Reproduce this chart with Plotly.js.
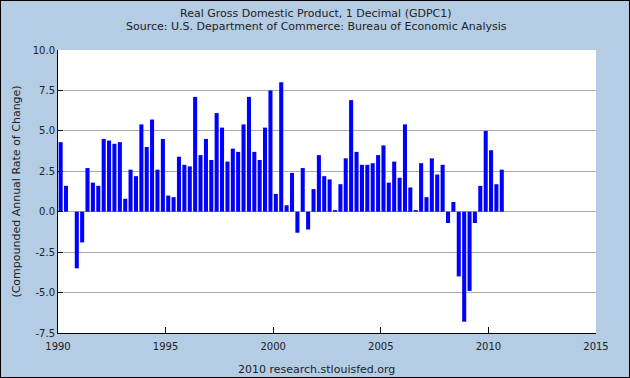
<!DOCTYPE html>
<html>
<head>
<meta charset="utf-8">
<script src="https://cdn.plot.ly/plotly-3.0.1.min.js"></script>
<style>
html,body{margin:0;padding:0;background:#b4cce4;}
#wrap{position:relative;width:630px;height:378px;}
#chart{width:630px;height:378px;}
#frame{position:absolute;left:0;top:0;width:628px;height:376px;border:1px solid #000;pointer-events:none;}
</style>
</head>
<body>
<div id="wrap"><div id="chart"></div><div id="frame"></div></div>
<script>
// Quarter start dates, 1990Q1 .. 2010Q3
const quarters = [];
for (let y = 1990; y <= 2010; y++) {
  for (const m of ['01','04','07','10']) {
    if (y === 2010 && m === '10') break;
    quarters.push(y + '-' + m + '-01');
  }
}
// Compounded annual rate of change, percent
const gdpGrowth = [
  4.3, 1.6, 0.0, -3.5,
  -1.9, 2.7, 1.8, 1.6,
  4.5, 4.4, 4.2, 4.3,
  0.8, 2.6, 2.2, 5.4,
  4.0, 5.7, 2.6, 4.5,
  1.0, 0.9, 3.4, 2.9,
  2.8, 7.1, 3.5, 4.5,
  3.2, 6.1, 5.2, 3.1,
  3.9, 3.7, 5.4, 7.1,
  3.7, 3.2, 5.2, 7.5,
  1.1, 8.0, 0.4, 2.4,
  -1.3, 2.7, -1.1, 1.4,
  3.5, 2.2, 2.0, 0.1,
  1.7, 3.3, 6.9, 3.7,
  2.9, 2.9, 3.0, 3.5,
  4.1, 1.8, 3.1, 2.1,
  5.4, 1.5, 0.1, 3.0,
  0.9, 3.3, 2.3, 2.9,
  -0.7, 0.6, -4.0, -6.8,
  -4.9, -0.7, 1.6, 5.0,
  3.8, 1.7, 2.6
];
const yTicks = [-7.5, -5, -2.5, 0, 2.5, 5, 7.5, 10];
const yTickText = ['-7.5', '-5.0', '-2.5', '0.0', '2.5', '5.0', '7.5', '10.0'];
const xTicks = ['1990-01-01','1995-01-01','2000-01-01','2005-01-01','2010-01-01','2015-01-01'];
const xTickText = ['1990','1995','2000','2005','2010','2015'];
const titleLines = [
  'Real Gross Domestic Product, 1 Decimal (GDPC1)',
  'Source: U.S. Department of Commerce: Bureau of Economic Analysis'
];
const footer = '2010 research.stlouisfed.org';

const font = {family: 'DejaVu Sans, Verdana, sans-serif', size: 11, color: '#222'};
const tickFont = {family: 'DejaVu Sans, Verdana, sans-serif', size: 10, color: '#222'};

Plotly.newPlot('chart', [{
  type: 'bar',
  x: quarters,
  y: gdpGrowth,
  xperiod: 'M3',
  xperiodalignment: 'middle',
  marker: {color: '#0000ff', line: {width: 0}},
  hoverinfo: 'x+y'
}], {
  width: 630, height: 378,
  paper_bgcolor: '#b4cce4',
  plot_bgcolor: '#ffffff',
  font: font,
  margin: {l: 58, r: 34, t: 50, b: 45},
  bargap: 0.24,
  showlegend: false,
  xaxis: {
    type: 'date',
    range: ['1990-01-01', '2015-01-01'],
    tickmode: 'array', tickvals: xTicks, ticktext: xTickText,
    ticks: 'inside', ticklen: 6, tickcolor: '#000', tickwidth: 1,
    ticklabelstandoff: 4,
    showgrid: false, zeroline: false,
    showline: true, linecolor: '#000', linewidth: 1,
    tickfont: tickFont, fixedrange: true
  },
  yaxis: {
    range: [-7.5, 10],
    tickmode: 'array', tickvals: yTicks, ticktext: yTickText,
    ticks: 'inside', ticklen: 5, tickcolor: '#000', tickwidth: 1,
    showgrid: true, gridcolor: '#aaaaaa', gridwidth: 1,
    zeroline: true, zerolinecolor: '#aaaaaa', zerolinewidth: 1,
    showline: true, linecolor: '#000', linewidth: 1,
    tickfont: tickFont, fixedrange: true,
    title: {text: '(Compounded Annual Rate of Change)', font: font, standoff: 9}
  },
  annotations: [
    {text: titleLines[0], xref: 'paper', yref: 'paper', x: 0.48, y: 1, yshift: 37,
     xanchor: 'center', yanchor: 'middle', showarrow: false, font: font},
    {text: titleLines[1], xref: 'paper', yref: 'paper', x: 0.48, y: 1, yshift: 24,
     xanchor: 'center', yanchor: 'middle', showarrow: false, font: font},
    {text: footer, xref: 'paper', yref: 'paper', x: 0.48, y: 0, yshift: -36,
     xanchor: 'center', yanchor: 'middle', showarrow: false, font: font}
  ]
}, {displayModeBar: false, staticPlot: true});
</script>
</body>
</html>
